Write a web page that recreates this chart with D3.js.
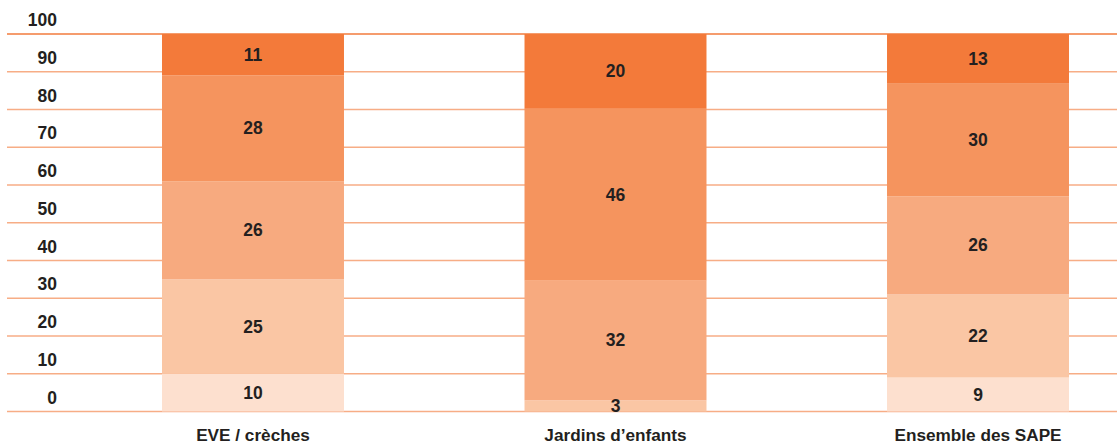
<!DOCTYPE html>
<html>
<head>
<meta charset="utf-8">
<script src="https://cdn.jsdelivr.net/npm/d3@7"></script>
<style>
  html, body { margin: 0; padding: 0; background: #fff; }
  svg { display: block; }
  text { font-family: "Liberation Sans", Arial, Helvetica, sans-serif; font-weight: bold; fill: #231f20; }
</style>
</head>
<body>
<svg id="chart" width="1117" height="444"></svg>
<script>
// Categories along the x axis
const categories = ["EVE / crèches", "Jardins d’enfants", "Ensemble des SAPE"];

// Shares (%) per stacked level, bottom to top, one value per category
const level1 = [10, 0, 9];
const level2 = [25, 3, 22];
const level3 = [26, 32, 26];
const level4 = [28, 46, 30];
const level5 = [11, 20, 13];

// Y axis tick values
const yTicks = [0, 10, 20, 30, 40, 50, 60, 70, 80, 90, 100];

const levels = [level1, level2, level3, level4, level5];
const levelKeys = ["l1", "l2", "l3", "l4", "l5"];
const colors = ["#fde0cf", "#fac6a4", "#f7aa7f", "#f5945e", "#f37a3a"];

// Build rows for d3.stack
const rows = categories.map((c, i) => {
  const r = { category: c };
  levelKeys.forEach((k, j) => { r[k] = levels[j][i]; });
  return r;
});

// Normalise each bar to a 100 % total (rounded shares may add up to 101)
const stack = d3.stack().keys(levelKeys).offset(d3.stackOffsetExpand);
const series = stack(rows);

const svg = d3.select("#chart");
const width = 1117;

const y = d3.scaleLinear().domain([0, 100]).range([411.5, 34]);
const x = d3.scaleBand().domain(categories).range([162, 1069]).paddingInner(0.498).paddingOuter(0);

// Gridlines
const grid = svg.append("g");
grid.selectAll("line")
  .data(yTicks)
  .join("line")
  .attr("x1", 7)
  .attr("x2", width)
  .attr("y1", d => y(d))
  .attr("y2", d => y(d))
  .attr("stroke", d => d === 100 ? "#f27b3c" : "#f7ad86")
  .attr("stroke-width", 1.6);

// Y tick labels
svg.append("g").selectAll("text")
  .data(yTicks)
  .join("text")
  .attr("x", 57)
  .attr("y", d => y(d) - 8)
  .attr("text-anchor", "end")
  .attr("font-size", 17.5)
  .text(d => d);

// Stacked bars
const groups = svg.append("g").selectAll("g")
  .data(series)
  .join("g")
  .attr("fill", (d, i) => colors[i]);

groups.selectAll("rect")
  .data(d => d.map(p => ({ p, cat: p.data.category })))
  .join("rect")
  .attr("x", d => x(d.cat))
  .attr("width", x.bandwidth())
  .attr("y", d => y(d.p[1] * 100))
  .attr("height", d => y(d.p[0] * 100) - y(d.p[1] * 100));

// Value labels centred in each segment
svg.append("g").selectAll("g")
  .data(series)
  .join("g")
  .selectAll("text")
  .data(d => d.map(p => ({ p, cat: p.data.category, v: p.data[d.key] })).filter(e => e.v > 0))
  .join("text")
  .attr("x", d => x(d.cat) + x.bandwidth() / 2)
  .attr("y", d => (y(d.p[0] * 100) + y(d.p[1] * 100)) / 2 + 6)
  .attr("text-anchor", "middle")
  .attr("font-size", 17.5)
  .text(d => d.v);

// Category labels
svg.append("g").selectAll("text")
  .data(categories)
  .join("text")
  .attr("x", d => x(d) + x.bandwidth() / 2)
  .attr("y", 441)
  .attr("text-anchor", "middle")
  .attr("font-size", 17.2)
  .text(d => d);
</script>
</body>
</html>
